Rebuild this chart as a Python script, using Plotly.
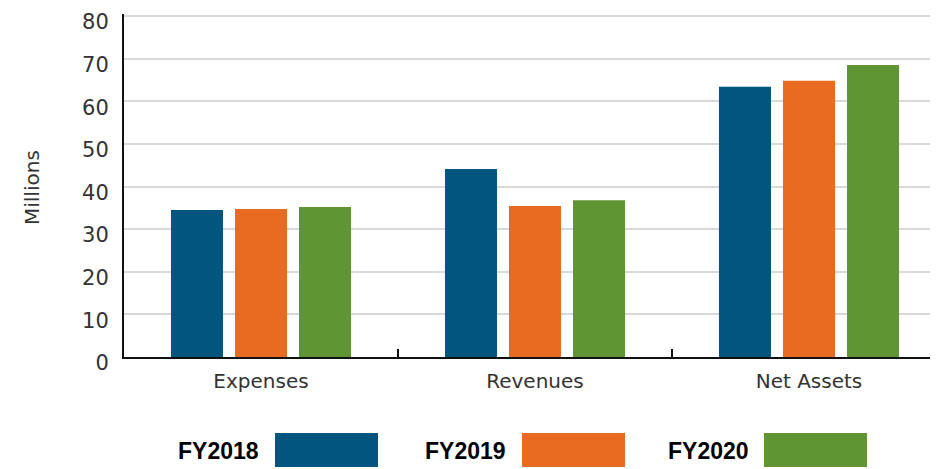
import plotly.graph_objects as go

categories = ["Expenses", "Revenues", "Net Assets"]
series_names = ["FY2018", "FY2019", "FY2020"]
fy2018 = [34.5, 44.1, 63.4]
fy2019 = [34.7, 35.4, 64.8]
fy2020 = [35.2, 36.8, 68.5]
y_ticks = [0, 10, 20, 30, 40, 50, 60, 70, 80]
colors = ["#02557f", "#e96b21", "#5f9633"]

# page body has an 8px default margin; work in reference pixels, shifted
OFF = 8
W, H = 938 - OFF, 469 - OFF
AX_LEFT, AX_TOP, AX_BOTTOM = 124, 14, 357  # reference pixels
L = AX_LEFT - OFF
T = AX_TOP - OFF
B = H - (AX_BOTTOM - OFF)
R = 0
pw, ph = W - L - R, H - T - B
Y_TOP = 80 * (AX_BOTTOM - AX_TOP) / (AX_BOTTOM - 16)

fig = go.Figure()
for name, vals, col in zip(series_names, [fy2018, fy2019, fy2020], colors):
    fig.add_trace(go.Bar(x=categories, y=vals, name=name, marker_color=col,
                         marker_line_width=0))

def px2paper_x(px):
    return (px - OFF - L) / pw

def px2paper_y(py):
    return (H - B - (py - OFF)) / ph

# custom legend
text_right = [261, 508, 751]
sw_left = [275, 522, 764]
sw_w = 103
shapes = []
annotations = []
for name, col, tr, sl in zip(series_names, colors, text_right, sw_left):
    shapes.append(dict(type="rect", xref="paper", yref="paper",
                       x0=px2paper_x(sl), x1=px2paper_x(sl + sw_w),
                       y0=px2paper_y(467), y1=px2paper_y(433),
                       fillcolor=col, line_width=0))
    annotations.append(dict(text=f"<b>{name}</b>", xref="paper", yref="paper",
                            x=px2paper_x(tr), y=px2paper_y(451),
                            xanchor="right", yanchor="middle", showarrow=False,
                            font=dict(family="Liberation Sans", size=23, color="#000")))

annotations.append(dict(text="Millions", xref="paper", yref="paper",
                        x=px2paper_x(32), y=px2paper_y(188), textangle=-90,
                        xanchor="center", yanchor="middle", showarrow=False,
                        font=dict(family="DejaVu Sans", size=20, color="#333")))

fig.update_layout(
    width=W, height=H,
    margin=dict(l=L, r=R, t=T, b=B, pad=0, autoexpand=False),
    paper_bgcolor="white", plot_bgcolor="white",
    barmode="group", bargap=0.299, bargroupgap=0.1875,
    showlegend=False,
    shapes=shapes, annotations=annotations,
    font=dict(family="DejaVu Sans", color="#333"),
    xaxis=dict(range=[-0.5, 2.5 - (946 - 938) / 274], showgrid=False, showline=True,
               linecolor="#111", linewidth=2, ticks="inside", tickson="boundaries",
               ticklen=8, tickwidth=2, tickcolor="#111",
               tickfont=dict(size=20, color="#333"), ticklabelstandoff=5),
    yaxis=dict(range=[0, Y_TOP], tickvals=y_ticks, showgrid=True,
               gridcolor="#d9d9d9", gridwidth=2, showline=True,
               linecolor="#111", linewidth=2, zeroline=False, ticks="",
               tickfont=dict(size=21, color="#333"), ticklabelstandoff=9,
               ticklabelshift=6, ticklabeloverflow="allow"),
)

fig.write_html("out.html")
